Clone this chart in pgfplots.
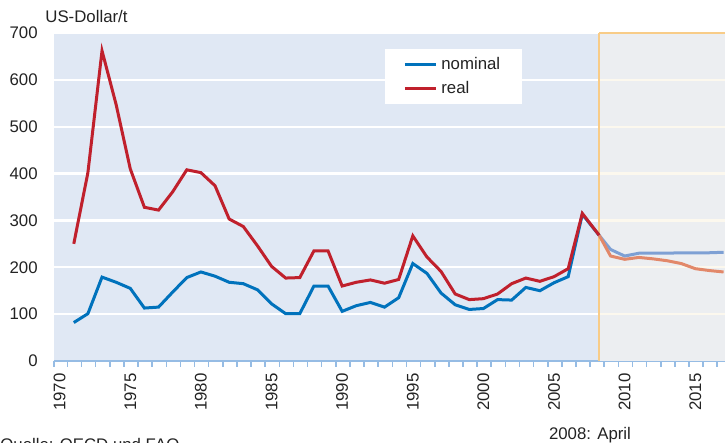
\documentclass[border=0pt]{standalone}
\usepackage{pgfplots}
\pgfplotsset{compat=1.18}
\usepackage{fontspec}
\setmainfont{Liberation Sans}

\definecolor{nomBlue}{RGB}{0,114,188}
\definecolor{realRed}{RGB}{192,32,44}
\definecolor{nomFade}{RGB}{126,160,212}
\definecolor{realFade}{RGB}{226,136,106}
\definecolor{plotBg}{RGB}{224,232,244}
\definecolor{foreBg}{RGB}{236,238,241}
\definecolor{foreGrid}{RGB}{252,248,238}
\definecolor{foreEdge}{RGB}{248,204,136}
\definecolor{axBlue}{RGB}{150,188,228}
\definecolor{txt}{RGB}{35,35,35}

\begin{document}
\begin{tikzpicture}
\path[use as bounding box] (-27pt,-41pt) rectangle (335.5pt,180.5pt);
\fontsize{8.4}{10}\selectfont
\begin{axis}[
    scale only axis,
    width=335.5pt, height=164pt,
    xmin=1969.6, xmax=2017.1,
    ymin=0, ymax=700,
    axis background/.style={fill=plotBg},
    axis lines*=left,
    y axis line style={draw=none},
    x axis line style={draw=axBlue, line width=0.8pt},
    ytick={0,100,...,700},
    ymajorgrids,
    major grid style={white, line width=1.2pt},
    xtick={1970,1975,...,2015},
    minor xtick={1969.6,1970.55,1971.55,...,2016.55},
    xtick align=outside,
    major tick length=0pt,
    minor tick length=2.8pt,
    minor x tick style={draw=axBlue, line width=0.8pt},
    major y tick style={draw=none},
    xticklabel style={rotate=90, anchor=east, inner sep=0pt, text=txt},
    yticklabel style={anchor=east, inner sep=0pt, text=txt},
    xticklabel shift=6pt,
    yticklabel shift=8pt,
    /pgf/number format/1000 sep={},
    /pgf/number format/assume math mode=true,
    every tick label/.append style={font=\fontsize{8.4}{10}\selectfont},
    legend style={at={(rel axis cs:0.4933,0.9512)}, anchor=north west,
        draw=none, fill=white, inner xsep=9pt, inner ysep=2pt,
        font=\fontsize{8.4}{10}\selectfont, text=txt,
        row sep=0.5pt},
    legend cell align=left,
    legend image code/.code={\draw[#1, line width=1.5pt] (0pt,0pt) -- (15.5pt,0pt);},
]
% forecast region
\fill[foreBg] (axis cs:2008.2,0) rectangle (axis cs:2017.1,700);
\draw[foreGrid, line width=1.2pt] (axis cs:2008.2,100) -- (axis cs:2017.1,100);
\draw[foreGrid, line width=1.2pt] (axis cs:2008.2,200) -- (axis cs:2017.1,200);
\draw[foreGrid, line width=1.2pt] (axis cs:2008.2,300) -- (axis cs:2017.1,300);
\draw[foreGrid, line width=1.2pt] (axis cs:2008.2,400) -- (axis cs:2017.1,400);
\draw[foreGrid, line width=1.2pt] (axis cs:2008.2,500) -- (axis cs:2017.1,500);
\draw[foreGrid, line width=1.2pt] (axis cs:2008.2,600) -- (axis cs:2017.1,600);
\draw[foreEdge, line width=0.8pt] (axis cs:2008.2,0) -- (axis cs:2008.2,700);
\draw[foreEdge, line width=0.8pt] (axis cs:2008.2,700) -- (axis cs:2017.1,700);

\addplot[nomBlue, line width=1.5pt] coordinates {
 (1971,82) (1972,101) (1973,179) (1974,168) (1975,155) (1976,113) (1977,115)
 (1978,147) (1979,178) (1980,190) (1981,181) (1982,168) (1983,165) (1984,152)
 (1985,122) (1986,101) (1987,101) (1988,160) (1989,160) (1990,106) (1991,118)
 (1992,125) (1993,115) (1994,135) (1995,208) (1996,187) (1997,145) (1998,120)
 (1999,110) (2000,112) (2001,131) (2002,130) (2003,157) (2004,150) (2005,167)
 (2006,180) (2007,313) (2008.2,268)
};
\addlegendentry{nominal}
\addplot[realRed, line width=1.5pt] coordinates {
 (1971,250) (1972,402) (1973,662) (1974,547) (1975,410) (1976,328) (1977,322)
 (1978,361) (1979,408) (1980,402) (1981,374) (1982,303) (1983,287) (1984,246)
 (1985,202) (1986,177) (1987,178) (1988,235) (1989,235) (1990,160) (1991,168)
 (1992,173) (1993,166) (1994,174) (1995,267) (1996,222) (1997,191) (1998,143)
 (1999,131) (2000,133) (2001,143) (2002,165) (2003,177) (2004,170) (2005,180)
 (2006,197) (2007,315) (2008.2,268)
};
\addlegendentry{real}
\addplot[nomFade, line width=1.5pt, forget plot] coordinates {
 (2008.2,268) (2009,238) (2010,224) (2011,230) (2012,230) (2013,230)
 (2014,231) (2015,231) (2016,231) (2017,232)
};
\addplot[realFade, line width=1.5pt, forget plot] coordinates {
 (2008.2,268) (2009,224) (2010,217) (2011,221) (2012,218) (2013,214)
 (2014,208) (2015,197) (2016,193) (2017,190)
};
\end{axis}
\node[anchor=west, inner sep=0pt, text=txt] at (-4.5pt,172pt) {US-Dollar/t};
\node[inner sep=0pt, text=txt] at (268pt,-37pt) {2008: April};
\node[anchor=north west, inner sep=0pt, text=txt] at (-27pt,-38.7pt) {Quelle: OECD und FAO};
\end{tikzpicture}
\end{document}
